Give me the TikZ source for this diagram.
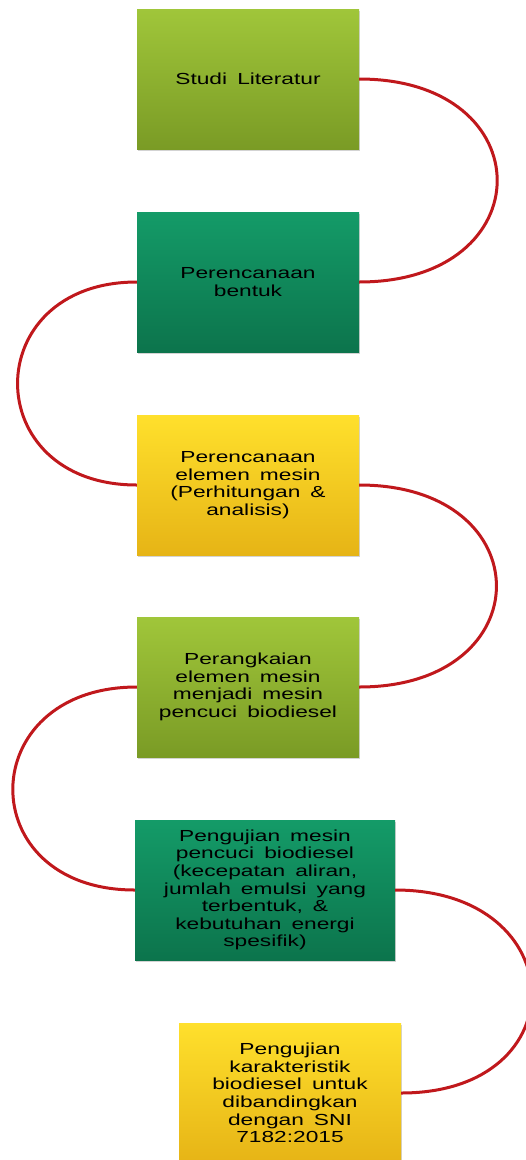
\documentclass[tikz,border=0pt]{standalone}
\usepackage{fontspec}
\setmainfont{Liberation Sans}[FakeStretch=1.42, WordSpace=1.6]
\usetikzlibrary{shadows}
\definecolor{leaf1}{RGB}{160,198,58}
\definecolor{leaf2}{RGB}{122,155,37}
\definecolor{sea1}{RGB}{20,155,104}
\definecolor{sea2}{RGB}{12,116,76}
\definecolor{sun1}{RGB}{255,224,44}
\definecolor{sun2}{RGB}{230,180,22}
\definecolor{linkred}{RGB}{192,24,28}

\begin{document}
\begin{tikzpicture}[x=1pt,y=1pt,
    stepbox/.style={rectangle, minimum height=140pt, align=center, inner sep=4pt,
      font=\fontsize{16}{17.6}\selectfont,
      drop shadow={shadow xshift=1pt, shadow yshift=-2pt, opacity=0.35}},
    link/.style={draw=linkred, line width=3pt}]
  \useasboundingbox (0,0) rectangle (526,-1160);
  % process boxes
  \foreach \txt/\cx/\cy/\w/\col [count=\n] in {
    {Studi Literatur}/248/79/222/leaf,
    {Perencanaan\\bentuk}/248/282/222/sea,
    {Perencanaan\\elemen mesin\\(Perhitungan \&\\analisis)}/248/485/222/sun,
    {Perangkaian\\elemen mesin\\menjadi mesin\\pencuci biodiesel}/248/687/222/leaf,
    {Pengujian mesin\\pencuci biodiesel\\(kecepatan aliran,\\jumlah emulsi yang\\terbentuk, \&\\kebutuhan energi\\spesifik)}/265/890/260/sea,
    {Pengujian\\karakteristik\\biodiesel untuk\\dibandingkan\\dengan SNI\\7182:2015}/290/1093/222/sun}{
    \node[stepbox, minimum width=\w pt, top color=\col1, bottom color=\col2] (box\n) at (\cx,-\cy) {\txt};
  }
  % curved links
  \foreach \a/\b/\side/\k in {1/2/east/184, 2/3/west/-159, 3/4/east/183, 4/5/west/-164, 5/6/east/178}
    \draw[link] (box\a.\side) .. controls +(\k,0) and +(\k,0) .. (box\b.\side);
\end{tikzpicture}
\end{document}
